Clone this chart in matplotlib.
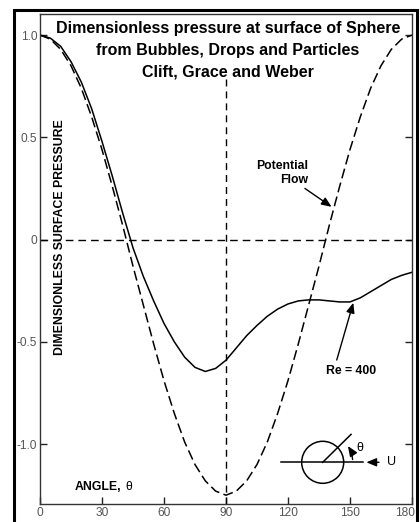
"""Surface pressure distribution around a sphere: potential flow vs Re = 400."""

import matplotlib

matplotlib.use("Agg")
import matplotlib.pyplot as plt
from matplotlib.patches import Circle, FancyArrowPatch, Rectangle
from matplotlib.transforms import ScaledTranslation
import numpy as np

plt.rcParams["font.family"] = ["Liberation Sans", "DejaVu Sans"]
plt.rcParams["lines.scale_dashes"] = False

# angle from the front stagnation point, degrees
angle_deg = [0, 5, 10, 15, 20, 25, 30, 35, 40, 45, 50, 55, 60, 65, 70, 75, 80, 85, 90,
             95, 100, 105, 110, 115, 120, 125, 130, 135, 140, 145, 150, 155, 160, 165,
             170, 175, 180]

potential_flow = [1.00, 0.98, 0.93, 0.85, 0.74, 0.60, 0.44, 0.26, 0.07, -0.13, -0.32,
                  -0.51, -0.69, -0.85, -0.99, -1.10, -1.18, -1.23, -1.25, -1.23, -1.18,
                  -1.10, -0.99, -0.85, -0.69, -0.51, -0.32, -0.13, 0.07, 0.26, 0.44,
                  0.60, 0.74, 0.85, 0.93, 0.98, 1.00]

re_400 = [1.00, 0.985, 0.945, 0.87, 0.77, 0.64, 0.48, 0.31, 0.13, -0.04, -0.18, -0.30,
          -0.41, -0.50, -0.575, -0.625, -0.645, -0.63, -0.59, -0.53, -0.47, -0.42,
          -0.375, -0.34, -0.315, -0.30, -0.295, -0.295, -0.30, -0.305, -0.305, -0.285,
          -0.255, -0.225, -0.195, -0.175, -0.16]

x_ticks = [0, 30, 60, 90, 120, 150, 180]
y_ticks = [-1.0, -0.5, 0.0, 0.5, 1.0]
y_tick_labels = ["-1.0", "-0.5", "0", "0.5", "1.0"]

title_lines = ["Dimensionless pressure at surface of Sphere",
               "from Bubbles, Drops and Particles",
               "Clift, Grace and Weber"]

fig = plt.figure(figsize=(4.2, 5.22), dpi=100)
ax = fig.add_axes([0.0952, 0.0345, 0.8857, 0.9387])

# heavy outer border
fig.add_artist(Rectangle((0.0345, -0.05), 0.9595, 1.03, transform=fig.transFigure,
                         fill=False, lw=2.2, ec="black"))

ax.plot(angle_deg, potential_flow, color="black", lw=1.1, dashes=(7.2, 3.2))
ax.plot(angle_deg, re_400, color="black", lw=1.1)

ax.axhline(0, color="black", lw=1.0, dashes=(5.5, 3.6))
ax.axvline(90, ymin=0, ymax=0.869, color="black", lw=1.0, dashes=(5.0, 3.6))

ax.set_xlim(0, 180)
ax.set_ylim(-1.293, 1.103)
ax.set_xticks(x_ticks)
ax.set_yticks(y_ticks)
ax.set_yticklabels(y_tick_labels)
ax.tick_params(direction="in", length=5.3, width=1.0, color="#222222",
               labelcolor="#555555", labelsize=8.6, pad=2,
               left=True, right=True, top=False, bottom=True)
for spine in ax.spines.values():
    spine.set_color("#333333")
    spine.set_linewidth(1.0)

# pull the last angle label in so it stays inside the border
last = ax.get_xticklabels()[-1]
last.set_transform(last.get_transform() + ScaledTranslation(-5 / 72, 0, fig.dpi_scale_trans))

for text, y in zip(title_lines, [0.9714, 0.9265, 0.8816]):
    ax.text(0.5054, y, text, transform=ax.transAxes, ha="center", va="center",
            fontsize=11.5, fontweight="bold")

ax.text(0.0538, 0.5439, "DIMENSIONLESS SURFACE PRESSURE", transform=ax.transAxes,
        rotation=90, ha="center", va="center", fontsize=8.8, fontweight="bold")
ax.text(0.094, 0.0347, "ANGLE,", transform=ax.transAxes, ha="left", va="center",
        fontsize=8.8, fontweight="bold")
ax.text(0.2285, 0.0347, "θ", transform=ax.transAxes, ha="left", va="center",
        fontsize=8.8)

arrow_kw = dict(arrowstyle="-|>,head_length=0.6,head_width=0.25", color="black",
                lw=1.0, shrinkA=0, shrinkB=0)
ax.text(129.7, 0.326, "Potential\nFlow", ha="right", va="center", fontsize=8.8,
        fontweight="bold", linespacing=1.15)
ax.annotate("", xy=(141.1, 0.16), xytext=(128.2, 0.25), arrowprops=arrow_kw)
ax.text(150.5, -0.643, "Re = 400", ha="center", va="center", fontsize=8.8,
        fontweight="bold")
ax.annotate("", xy=(151.6, -0.309), xytext=(143.6, -0.589), arrowprops=arrow_kw)

# sketch of the sphere, angle and free stream (unit circle radius)
sk = fig.add_axes([0.6548, 0.04215, 0.3214, 0.14368])
sk.set_xlim(-2.27, 4.157)
sk.set_ylim(-1.795, 1.776)
sk.axis("off")
sk.add_patch(Circle((0, 0), 1.0, fill=False, lw=1.1, ec="black"))
sk.plot([-2.0, 1.9], [0, 0], color="black", lw=1.1)
sk.plot([0, 1.35], [0, 1.33], color="black", lw=1.1)
arc_end = (1.43 * np.cos(np.radians(38)), 1.43 * np.sin(np.radians(38)))
sk.add_patch(FancyArrowPatch((1.43, 0), arc_end, connectionstyle="arc3,rad=0.17",
                             arrowstyle="-|>,head_length=0.6,head_width=0.25",
                             mutation_scale=10, color="black", lw=1.0))
sk.text(1.78, 0.70, "θ", ha="center", va="center", fontsize=9)
sk.annotate("", xy=(2.08, 0), xytext=(2.68, 0), arrowprops=arrow_kw)
sk.text(3.28, 0, "U", ha="center", va="center", fontsize=9)

fig.savefig("out.png", dpi=100)
